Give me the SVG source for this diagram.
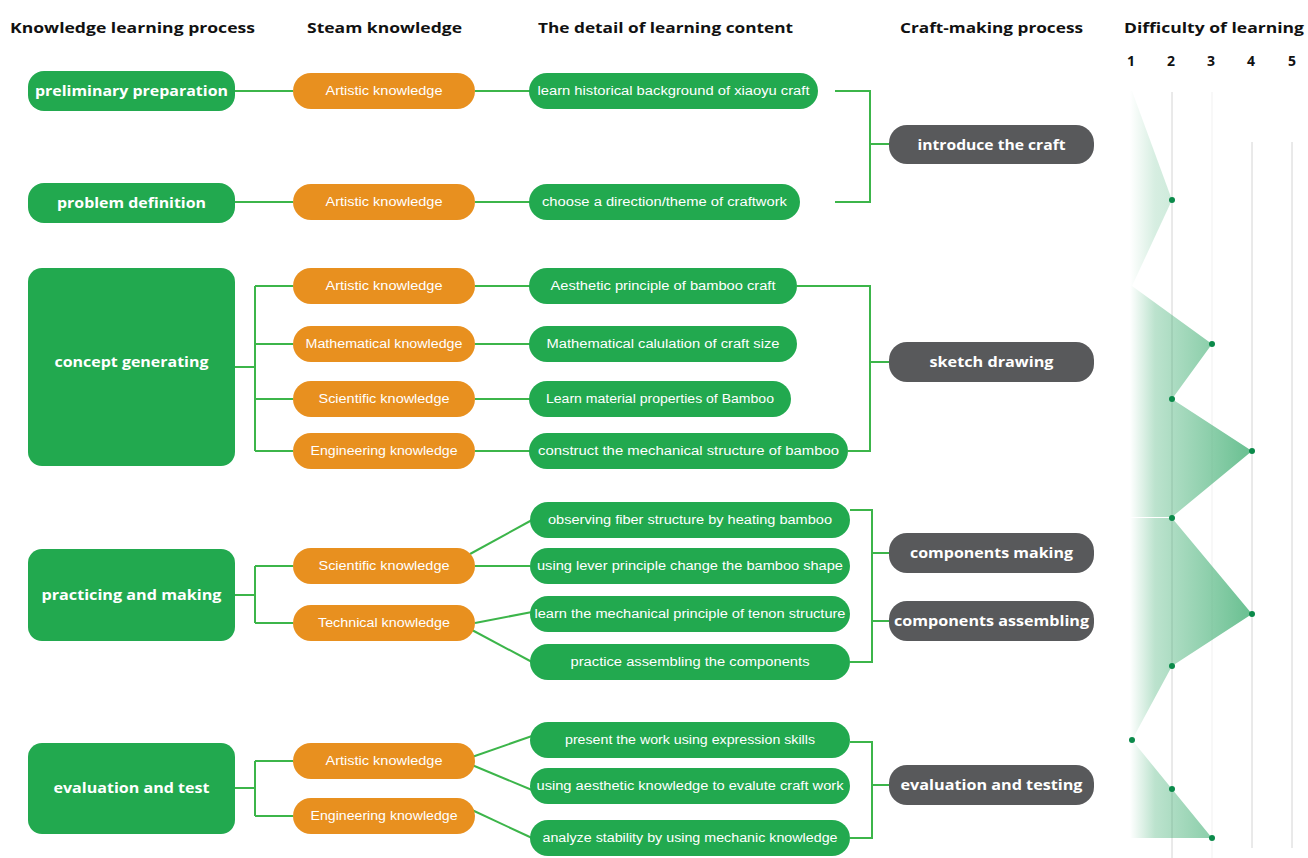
<svg xmlns="http://www.w3.org/2000/svg" width="1308" height="858" viewBox="0 0 1308 858">
  <defs>
    <style>
      .hdr { font-family: "Open Sans", "Liberation Sans", sans-serif; font-weight: 700; font-size: 15px; fill: #111; }
      .num { font-family: "Open Sans", "Liberation Sans", sans-serif; font-weight: 700; font-size: 14px; fill: #111; text-anchor: middle; }
      .stage { fill: #22a94f; }
      .stage-t { font-family: "Open Sans", "Liberation Sans", sans-serif; font-weight: 700; font-size: 15px; fill: #fff; text-anchor: middle; }
      .steam { fill: #e8901f; }
      .steam-t { font-family: "Liberation Sans", Arial, sans-serif; font-size: 12px; fill: #fff; text-anchor: middle; }
      .detail { fill: #22a94f; }
      .detail-t { font-family: "Liberation Sans", Arial, sans-serif; font-size: 12px; fill: #fff; text-anchor: middle; }
      .craft { fill: #58595b; }
      .craft-t { font-family: "Open Sans", "Liberation Sans", sans-serif; font-weight: 700; font-size: 15px; fill: #fff; text-anchor: middle; }
      .link { fill: none; stroke: #3cb54a; stroke-width: 2; }
      .grid { stroke: #d4d4d4; stroke-width: 1; }
      .dot { fill: #0b8a4a; }
    </style>
    <linearGradient id="areaFade" gradientUnits="userSpaceOnUse" x1="1130" y1="0" x2="1255" y2="0">
      <stop offset="0" stop-color="#3fae72" stop-opacity="0"/>
      <stop offset="0.2" stop-color="#3fae72" stop-opacity="0.35"/>
      <stop offset="1" stop-color="#3fae72" stop-opacity="0.8"/>
    </linearGradient>
  </defs>

  <rect width="1308" height="858" fill="#ffffff"/>

  <!-- column headings -->
  <g id="headings">
    <text class="hdr" x="10" y="33" textLength="245" lengthAdjust="spacingAndGlyphs">Knowledge learning process</text>
    <text class="hdr" x="307" y="33" textLength="155" lengthAdjust="spacingAndGlyphs">Steam knowledge</text>
    <text class="hdr" x="538" y="33" textLength="255" lengthAdjust="spacingAndGlyphs">The detail of learning content</text>
    <text class="hdr" x="900" y="33" textLength="183" lengthAdjust="spacingAndGlyphs">Craft-making process</text>
    <text class="hdr" x="1124" y="33" textLength="180" lengthAdjust="spacingAndGlyphs">Difficulty of learning</text>
    <text class="num" x="1131" y="66">1</text>
    <text class="num" x="1171" y="66">2</text>
    <text class="num" x="1211" y="66">3</text>
    <text class="num" x="1251" y="66">4</text>
    <text class="num" x="1292" y="66">5</text>
  </g>

  <!-- difficulty chart -->
  <g id="difficulty-chart">
    <line class="grid" x1="1172" y1="92" x2="1172" y2="858"/>
    <line class="grid" x1="1212" y1="92" x2="1212" y2="858" stroke-opacity="0.35"/>
    <line class="grid" x1="1252" y1="142" x2="1252" y2="848"/>
    <line class="grid" x1="1292" y1="142" x2="1292" y2="848"/>
    <polygon fill="url(#areaFade)" fill-opacity="0.6" points="1120,91 1132,91 1172,200 1132,286 1120,286"/>
    <polygon fill="url(#areaFade)" points="1120,286 1132,286 1212,344 1172,399 1252,451 1172,517 1120,517"/>
    <polygon fill="url(#areaFade)" points="1120,518 1172,518 1252,614 1172,666 1132,740 1172,789 1212,838 1120,838"/>
    <circle class="dot" cx="1172" cy="200" r="3"/>
    <circle class="dot" cx="1212" cy="344" r="3"/>
    <circle class="dot" cx="1172" cy="399" r="3"/>
    <circle class="dot" cx="1252" cy="451" r="3"/>
    <circle class="dot" cx="1172" cy="518" r="3"/>
    <circle class="dot" cx="1252" cy="614" r="3"/>
    <circle class="dot" cx="1172" cy="666" r="3"/>
    <circle class="dot" cx="1132" cy="740" r="3"/>
    <circle class="dot" cx="1172" cy="789" r="3"/>
    <circle class="dot" cx="1212" cy="838" r="3"/>
  </g>

  <!-- connectors -->
  <g id="connectors">
    <!-- stage to steam knowledge -->
    <path class="link" d="M235,91 H293"/>
    <path class="link" d="M235,202 H293"/>
    <path class="link" d="M235,367 H255 M255,286 V451 M255,286 H293 M255,344 H293 M255,399 H293 M255,451 H293"/>
    <path class="link" d="M235,595 H255 M255,566 V623 M255,566 H293 M255,623 H293"/>
    <path class="link" d="M235,788 H255 M255,761 V816 M255,761 H293 M255,816 H293"/>
    <!-- steam knowledge to learning content -->
    <path class="link" d="M475,91 H530"/>
    <path class="link" d="M475,202 H530"/>
    <path class="link" d="M475,286 H530"/>
    <path class="link" d="M475,344 H530"/>
    <path class="link" d="M475,399 H530"/>
    <path class="link" d="M475,451 H530"/>
    <path class="link" d="M470,554 L532,520"/>
    <path class="link" d="M475,566 H530"/>
    <path class="link" d="M475,623 L532,612"/>
    <path class="link" d="M472,630 L532,662"/>
    <path class="link" d="M472,757 L532,736"/>
    <path class="link" d="M472,765 L532,790"/>
    <path class="link" d="M472,810 L532,838"/>
    <!-- learning content to craft-making steps -->
    <path class="link" d="M835,91 H870 V202 H835 M870,144 H889"/>
    <path class="link" d="M797,286 H870 V451 H848 M870,362 H889"/>
    <path class="link" d="M850,510 H872 V662 H850 M872,553 H889 M872,621 H889"/>
    <path class="link" d="M850,742 H872 V838 H850 M872,785 H889"/>
  </g>

  <!-- knowledge learning process stages -->
  <g id="stage-preparation">
    <rect class="stage" x="28" y="71" width="207" height="40" rx="16"/>
    <text class="stage-t" x="131.5" y="96" textLength="193" lengthAdjust="spacingAndGlyphs">preliminary preparation</text>
  </g>
  <g id="stage-definition">
    <rect class="stage" x="28" y="183" width="207" height="40" rx="16"/>
    <text class="stage-t" x="131.5" y="208" textLength="149" lengthAdjust="spacingAndGlyphs">problem definition</text>
  </g>
  <g id="stage-concept">
    <rect class="stage" x="28" y="268" width="207" height="198" rx="14"/>
    <text class="stage-t" x="131.5" y="367" textLength="154" lengthAdjust="spacingAndGlyphs">concept generating</text>
  </g>
  <g id="stage-making">
    <rect class="stage" x="28" y="549" width="207" height="92" rx="14"/>
    <text class="stage-t" x="131.5" y="600" textLength="180" lengthAdjust="spacingAndGlyphs">practicing and making</text>
  </g>
  <g id="stage-evaluation">
    <rect class="stage" x="28" y="743" width="207" height="91" rx="14"/>
    <text class="stage-t" x="131.5" y="793" textLength="156" lengthAdjust="spacingAndGlyphs">evaluation and test</text>
  </g>

  <!-- steam knowledge -->
  <g id="steam-1">
    <rect class="steam" x="293" y="73" width="182" height="36" rx="18"/>
    <text class="steam-t" x="384" y="95" textLength="117" lengthAdjust="spacingAndGlyphs">Artistic knowledge</text>
  </g>
  <g id="steam-2">
    <rect class="steam" x="293" y="184" width="182" height="36" rx="18"/>
    <text class="steam-t" x="384" y="206" textLength="117" lengthAdjust="spacingAndGlyphs">Artistic knowledge</text>
  </g>
  <g id="steam-3">
    <rect class="steam" x="293" y="268" width="182" height="36" rx="18"/>
    <text class="steam-t" x="384" y="290" textLength="117" lengthAdjust="spacingAndGlyphs">Artistic knowledge</text>
  </g>
  <g id="steam-4">
    <rect class="steam" x="293" y="326" width="182" height="36" rx="18"/>
    <text class="steam-t" x="384" y="348" textLength="157" lengthAdjust="spacingAndGlyphs">Mathematical knowledge</text>
  </g>
  <g id="steam-5">
    <rect class="steam" x="293" y="381" width="182" height="36" rx="18"/>
    <text class="steam-t" x="384" y="403" textLength="131" lengthAdjust="spacingAndGlyphs">Scientific knowledge</text>
  </g>
  <g id="steam-6">
    <rect class="steam" x="293" y="433" width="182" height="36" rx="18"/>
    <text class="steam-t" x="384" y="455" textLength="147" lengthAdjust="spacingAndGlyphs">Engineering knowledge</text>
  </g>
  <g id="steam-7">
    <rect class="steam" x="293" y="548" width="182" height="36" rx="18"/>
    <text class="steam-t" x="384" y="570" textLength="131" lengthAdjust="spacingAndGlyphs">Scientific knowledge</text>
  </g>
  <g id="steam-8">
    <rect class="steam" x="293" y="605" width="182" height="36" rx="18"/>
    <text class="steam-t" x="384" y="627" textLength="132" lengthAdjust="spacingAndGlyphs">Technical knowledge</text>
  </g>
  <g id="steam-9">
    <rect class="steam" x="293" y="743" width="182" height="36" rx="18"/>
    <text class="steam-t" x="384" y="765" textLength="117" lengthAdjust="spacingAndGlyphs">Artistic knowledge</text>
  </g>
  <g id="steam-10">
    <rect class="steam" x="293" y="798" width="182" height="36" rx="18"/>
    <text class="steam-t" x="384" y="820" textLength="147" lengthAdjust="spacingAndGlyphs">Engineering knowledge</text>
  </g>

  <!-- learning content details -->
  <g id="detail-1">
    <rect class="detail" x="529" y="73" width="289" height="36" rx="18"/>
    <text class="detail-t" x="673.5" y="95" textLength="272" lengthAdjust="spacingAndGlyphs">learn historical background of xiaoyu craft</text>
  </g>
  <g id="detail-2">
    <rect class="detail" x="529" y="184" width="271" height="36" rx="18"/>
    <text class="detail-t" x="664.5" y="206" textLength="245" lengthAdjust="spacingAndGlyphs">choose a direction/theme of craftwork</text>
  </g>
  <g id="detail-3">
    <rect class="detail" x="529" y="268" width="268" height="36" rx="18"/>
    <text class="detail-t" x="663" y="290" textLength="225" lengthAdjust="spacingAndGlyphs">Aesthetic principle of bamboo craft</text>
  </g>
  <g id="detail-4">
    <rect class="detail" x="529" y="326" width="268" height="36" rx="18"/>
    <text class="detail-t" x="663" y="348" textLength="233" lengthAdjust="spacingAndGlyphs">Mathematical calulation of craft size</text>
  </g>
  <g id="detail-5">
    <rect class="detail" x="529" y="381" width="262" height="36" rx="18"/>
    <text class="detail-t" x="660" y="403" textLength="228" lengthAdjust="spacingAndGlyphs">Learn material properties of Bamboo</text>
  </g>
  <g id="detail-6">
    <rect class="detail" x="529" y="433" width="319" height="36" rx="18"/>
    <text class="detail-t" x="688.5" y="455" textLength="301" lengthAdjust="spacingAndGlyphs">construct the mechanical structure of bamboo</text>
  </g>
  <g id="detail-7">
    <rect class="detail" x="530" y="502" width="320" height="36" rx="18"/>
    <text class="detail-t" x="690" y="524" textLength="284" lengthAdjust="spacingAndGlyphs">observing fiber structure by heating bamboo</text>
  </g>
  <g id="detail-8">
    <rect class="detail" x="530" y="548" width="320" height="36" rx="18"/>
    <text class="detail-t" x="690" y="570" textLength="306" lengthAdjust="spacingAndGlyphs">using lever principle change the bamboo shape</text>
  </g>
  <g id="detail-9">
    <rect class="detail" x="530" y="596" width="320" height="36" rx="18"/>
    <text class="detail-t" x="690" y="618" textLength="311" lengthAdjust="spacingAndGlyphs">learn the mechanical principle of tenon structure</text>
  </g>
  <g id="detail-10">
    <rect class="detail" x="530" y="644" width="320" height="36" rx="18"/>
    <text class="detail-t" x="690" y="666" textLength="239" lengthAdjust="spacingAndGlyphs">practice assembling the components</text>
  </g>
  <g id="detail-11">
    <rect class="detail" x="530" y="722" width="320" height="36" rx="18"/>
    <text class="detail-t" x="690" y="744" textLength="250" lengthAdjust="spacingAndGlyphs">present the work using expression skills</text>
  </g>
  <g id="detail-12">
    <rect class="detail" x="530" y="768" width="320" height="36" rx="18"/>
    <text class="detail-t" x="690" y="790" textLength="307" lengthAdjust="spacingAndGlyphs">using aesthetic knowledge to evalute craft work</text>
  </g>
  <g id="detail-13">
    <rect class="detail" x="530" y="820" width="320" height="36" rx="18"/>
    <text class="detail-t" x="690" y="842" textLength="295" lengthAdjust="spacingAndGlyphs">analyze stability by using mechanic knowledge</text>
  </g>

  <!-- craft-making process -->
  <g id="craft-introduce">
    <rect class="craft" x="889" y="125" width="205" height="39" rx="18"/>
    <text class="craft-t" x="991.5" y="150" textLength="148" lengthAdjust="spacingAndGlyphs">introduce the craft</text>
  </g>
  <g id="craft-sketch">
    <rect class="craft" x="889" y="342" width="205" height="40" rx="18"/>
    <text class="craft-t" x="991.5" y="367" textLength="124" lengthAdjust="spacingAndGlyphs">sketch drawing</text>
  </g>
  <g id="craft-making">
    <rect class="craft" x="889" y="533" width="205" height="40" rx="18"/>
    <text class="craft-t" x="991.5" y="558" textLength="163" lengthAdjust="spacingAndGlyphs">components making</text>
  </g>
  <g id="craft-assembling">
    <rect class="craft" x="889" y="601" width="205" height="40" rx="18"/>
    <text class="craft-t" x="991.5" y="626" textLength="195" lengthAdjust="spacingAndGlyphs">components assembling</text>
  </g>
  <g id="craft-testing">
    <rect class="craft" x="889" y="765" width="205" height="40" rx="18"/>
    <text class="craft-t" x="991.5" y="790" textLength="182" lengthAdjust="spacingAndGlyphs">evaluation and testing</text>
  </g>
</svg>
